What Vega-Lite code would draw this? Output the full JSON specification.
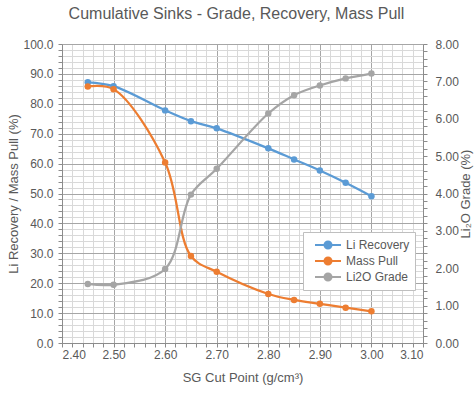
{
  "$schema": "https://vega.github.io/schema/vega-lite/v6.json",
  "width": 361,
  "height": 299,
  "autosize": {"type": "none"},
  "padding": {"left": 62, "top": 44, "right": 51, "bottom": 56},
  "background": "white",
  "config": {
    "view": {"stroke": null},
    "font": "Liberation Sans",
    "axis": {"labelFont": "Liberation Sans", "titleFont": "Liberation Sans", "labelColor": "#595959", "titleColor": "#595959", "labelFontSize": 12, "titleFontSize": 13, "titleFontWeight": "normal", "domainColor": "#8c8c8c", "tickColor": "#8c8c8c"}
  },
  "title": {"text": "Cumulative Sinks - Grade, Recovery, Mass Pull", "fontSize": 16, "fontWeight": "normal", "color": "#595959", "font": "Liberation Sans", "anchor": "middle", "baseline": "alphabetic", "offset": 3, "dx": -6},
  "datasets": {
    "main": [
      {"SG": 2.45, "Series": "Li Recovery", "Value": 87.2},
      {"SG": 2.50, "Series": "Li Recovery", "Value": 85.9},
      {"SG": 2.60, "Series": "Li Recovery", "Value": 77.8},
      {"SG": 2.65, "Series": "Li Recovery", "Value": 74.2},
      {"SG": 2.70, "Series": "Li Recovery", "Value": 71.8},
      {"SG": 2.80, "Series": "Li Recovery", "Value": 65.1},
      {"SG": 2.85, "Series": "Li Recovery", "Value": 61.4},
      {"SG": 2.90, "Series": "Li Recovery", "Value": 57.7},
      {"SG": 2.95, "Series": "Li Recovery", "Value": 53.6},
      {"SG": 3.00, "Series": "Li Recovery", "Value": 49.1},
      {"SG": 2.45, "Series": "Mass Pull", "Value": 85.8},
      {"SG": 2.50, "Series": "Mass Pull", "Value": 84.9},
      {"SG": 2.60, "Series": "Mass Pull", "Value": 60.4},
      {"SG": 2.65, "Series": "Mass Pull", "Value": 29.1},
      {"SG": 2.70, "Series": "Mass Pull", "Value": 23.8},
      {"SG": 2.80, "Series": "Mass Pull", "Value": 16.4},
      {"SG": 2.85, "Series": "Mass Pull", "Value": 14.4},
      {"SG": 2.90, "Series": "Mass Pull", "Value": 13.1},
      {"SG": 2.95, "Series": "Mass Pull", "Value": 11.8},
      {"SG": 3.00, "Series": "Mass Pull", "Value": 10.6}
    ],
    "grade": [
      {"SG": 2.45, "Series": "Li2O Grade", "Grade": 1.58},
      {"SG": 2.50, "Series": "Li2O Grade", "Grade": 1.56},
      {"SG": 2.60, "Series": "Li2O Grade", "Grade": 1.98},
      {"SG": 2.65, "Series": "Li2O Grade", "Grade": 3.97},
      {"SG": 2.70, "Series": "Li2O Grade", "Grade": 4.66},
      {"SG": 2.80, "Series": "Li2O Grade", "Grade": 6.14},
      {"SG": 2.85, "Series": "Li2O Grade", "Grade": 6.63},
      {"SG": 2.90, "Series": "Li2O Grade", "Grade": 6.89},
      {"SG": 2.95, "Series": "Li2O Grade", "Grade": 7.08},
      {"SG": 3.00, "Series": "Li2O Grade", "Grade": 7.21}
    ]
  },
  "resolve": {"scale": {"y": "independent"}, "axis": {"x": "independent", "y": "independent"}},
  "layer": [
    {
      "data": {"name": "main"},
      "mark": {"type": "point", "opacity": 0},
      "encoding": {
        "x": {"field": "SG", "type": "quantitative", "scale": {"domain": [2.4, 3.1], "nice": false, "zero": false},
          "axis": {"values": [2.4,2.42,2.44,2.46,2.48,2.5,2.52,2.54,2.56,2.58,2.6,2.62,2.64,2.66,2.68,2.7,2.72,2.74,2.76,2.78,2.8,2.82,2.84,2.86,2.88,2.9,2.92,2.94,2.96,2.98,3.0,3.02,3.04,3.06,3.08,3.1],
            "grid": true, "gridColor": "#d9d9d9", "gridWidth": 1, "labels": false, "ticks": true, "tickSize": 4, "domain": false, "title": null, "orient": "bottom", "zindex": 0}},
        "y": {"field": "Value", "type": "quantitative", "scale": {"domain": [0, 100], "nice": false},
          "axis": {"values": [0,2,4,6,8,10,12,14,16,18,20,22,24,26,28,30,32,34,36,38,40,42,44,46,48,50,52,54,56,58,60,62,64,66,68,70,72,74,76,78,80,82,84,86,88,90,92,94,96,98,100],
            "grid": true, "gridColor": "#d9d9d9", "gridWidth": 1, "labels": false, "ticks": true, "tickSize": 4, "domain": false, "title": null, "orient": "left", "zindex": 0}}
      }
    },
    {
      "data": {"name": "grade"},
      "mark": {"type": "point", "opacity": 0},
      "encoding": {
        "x": {"field": "SG", "type": "quantitative", "axis": null},
        "y": {"field": "Grade", "type": "quantitative", "scale": {"domain": [0, 8], "nice": false},
          "axis": {"values": [0,0.2,0.4,0.6,0.8,1,1.2,1.4,1.6,1.8,2,2.2,2.4,2.6,2.8,3,3.2,3.4,3.6,3.8,4,4.2,4.4,4.6,4.8,5,5.2,5.4,5.6,5.8,6,6.2,6.4,6.6,6.8,7,7.2,7.4,7.6,7.8,8],
            "grid": false, "labels": false, "ticks": true, "tickSize": 4, "domain": false, "title": null, "orient": "right"}}
      }
    },
    {
      "data": {"name": "main"},
      "encoding": {
        "x": {"field": "SG", "type": "quantitative",
          "axis": {"values": [2.4,2.5,2.6,2.7,2.8,2.9,3.0,3.1], "format": ".2f", "grid": true, "gridColor": "#a6a6a6", "ticks": false, "labelPadding": 6, "domain": true, "title": "SG Cut Point (g/cm³)", "titlePadding": 11, "orient": "bottom", "zindex": 0}},
        "y": {"field": "Value", "type": "quantitative", "scale": {"domain": [0, 100], "nice": false},
          "axis": {"values": [0,10,20,30,40,50,60,70,80,90,100], "format": ".1f", "grid": true, "gridColor": "#a6a6a6", "ticks": false, "labelPadding": 9, "domain": true, "title": "Li Recovery / Mass Pull (%)", "titlePadding": 2, "orient": "left", "zindex": 0}},
        "color": {"field": "Series", "type": "nominal",
          "scale": {"domain": ["Li Recovery", "Mass Pull", "Li2O Grade"], "range": ["#5B9BD5", "#ED7D31", "#A5A5A5"]},
          "legend": {"title": null, "orient": "none", "legendX": 241, "legendY": 188, "strokeColor": "#bfbfbf", "fillColor": "white", "padding": 5,
            "labelFontSize": 12, "labelColor": "#595959", "labelFont": "Liberation Sans",
            "symbolType": "M-1,0H1M-0.27,0A0.27,0.27 0 1,1 0.27,0A0.27,0.27 0 1,1 -0.27,0", "symbolSize": 676, "symbolStrokeWidth": 2, "symbolOffset": 6, "clipHeight": 16, "rowPadding": 0}}
      },
      "layer": [
        {"mark": {"type": "line", "interpolate": "catmull-rom", "strokeWidth": 2.25}},
        {"mark": {"type": "point", "filled": true, "size": 42, "opacity": 1}}
      ]
    },
    {
      "data": {"name": "grade"},
      "encoding": {
        "x": {"field": "SG", "type": "quantitative", "axis": null},
        "y": {"field": "Grade", "type": "quantitative", "scale": {"domain": [0, 8], "nice": false},
          "axis": {"values": [0,1,2,3,4,5,6,7,8], "format": ".2f", "grid": false, "ticks": false, "labelPadding": 12, "domain": true, "title": "Li₂O Grade (%)", "titleAngle": -90, "titleBaseline": "top", "titlePadding": 1, "orient": "right"}},
        "color": {"field": "Series", "type": "nominal"}
      },
      "layer": [
        {"mark": {"type": "line", "interpolate": "catmull-rom", "strokeWidth": 2.25}},
        {"mark": {"type": "point", "filled": true, "size": 42, "opacity": 1}}
      ]
    }
  ]
}
